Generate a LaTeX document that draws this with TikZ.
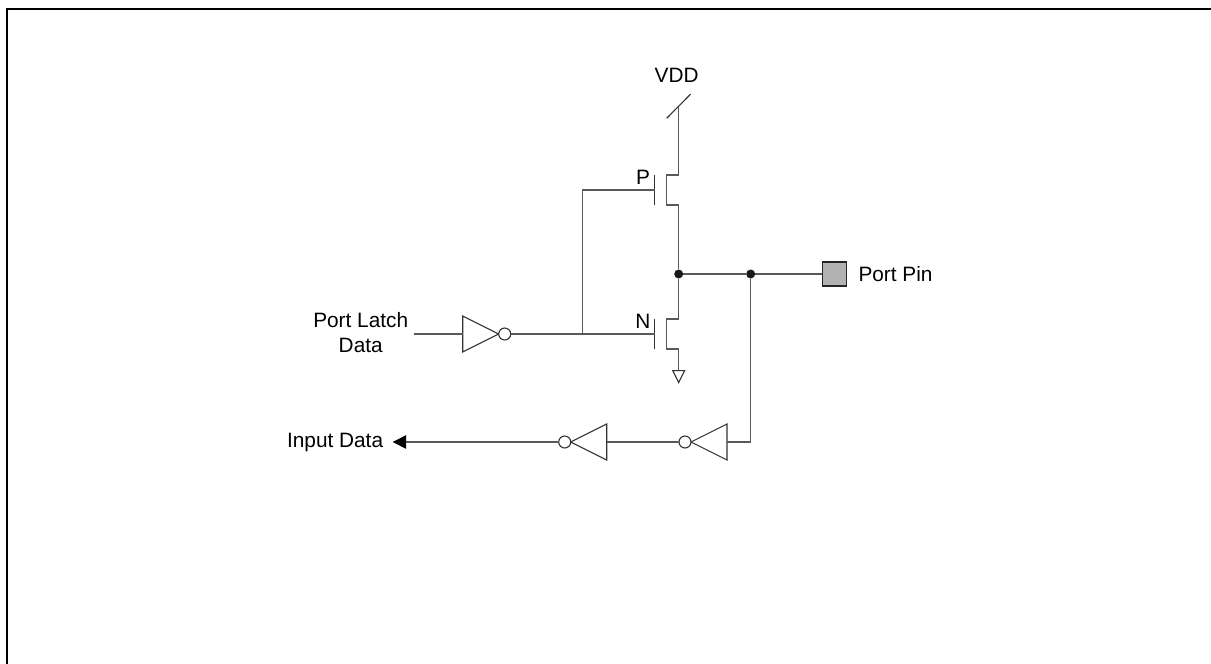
\documentclass[tikz,border=0pt]{standalone}
\usepackage{fontspec}
\setmainfont{Liberation Sans}
\usetikzlibrary{arrows.meta}
\usetikzlibrary{shapes.geometric}
\usetikzlibrary{calc}
\usetikzlibrary{positioning}
\tikzset{
  wire/.style={line width=1.4pt, draw=black!65},
  thin wire/.style={line width=1.1pt, draw=black!80},
  label/.style={inner sep=0pt, font=\fontsize{20.8}{24.5}\selectfont, text=black},
  inv/.style={isosceles triangle, isosceles triangle stretches, draw=black!80, line width=1.1pt,
    minimum width=36pt, minimum height=36pt, inner sep=0pt, outer sep=0pt, anchor=lower side},
  bubble/.style={circle, draw=black!80, line width=1.1pt, fill=white, minimum size=12pt, inner sep=0pt, outer sep=0pt, right=0pt of #1},
  bubbleleft/.style={circle, draw=black!80, line width=1.1pt, fill=white, minimum size=12pt, inner sep=0pt, outer sep=0pt, left=0pt of #1},
  dot/.style={circle, fill=black!90, minimum size=9pt, inner sep=0pt},
}
\begin{document}
\begin{tikzpicture}[x=1pt, y=-1pt]
  \useasboundingbox (0,0) rectangle (1211,664);
  \draw[line width=2pt] (7,664) |- (1211,9);

  % transistors
  \foreach \m/\y in {P/190,N/334} {
    \coordinate (gate\m) at (654.7,\y);
    \coordinate (drain\m) at (678.7,\y-15);
    \coordinate (source\m) at (678.7,\y+15);
    \draw[thin wire] (654.7,\y-15) -- (654.7,\y+15);
    \draw[wire] (drain\m) -- +(-12,0) -- ($(source\m)+(-12,0)$) -- (source\m);
  }
  \node[label] (vdd) at (676.7,75.3) {VDD};
  \node[label] (plabel) at (643,177.7) {P};
  \node[label] (nlabel) at (643,321.7) {N};

  \coordinate (rail) at (678.7,106.7);
  \coordinate (slashA) at (666.7,118.3);
  \coordinate (slashB) at (690.7,94);
  \draw[thin wire] (slashA) -- (slashB);
  \draw[wire] (rail) -- (drainP);

  \node[dot] (outj) at (678.7,274) {};
  \node[dot] (inj) at (750.7,274) {};
  \node[draw=black!85, line width=1.1pt, fill=black!30, minimum size=24pt, inner sep=0pt] (pin) at (834.7,274) {};
  \node[label, anchor=west] (pinlabel) at (858.3,274) {Port Pin};

  \draw[wire] (sourceP) -- (outj);
  \draw[wire] (outj) -- (drainN);
  \draw[wire] (outj) -- (inj);
  \draw[wire] (inj) -- (pin);

  % ground
  \node[isosceles triangle, isosceles triangle stretches, shape border rotate=270, draw=black!80, line width=1.1pt,
    minimum width=12pt, minimum height=12pt, inner sep=0pt, anchor=lower side] (gnd) at (678.7,370) {};
  \draw[wire] (sourceN) -- (gnd.lower side);

  % drive side
  \node[label, align=center] (latch) at (360.7,332.5) {Port Latch\\Data};
  \coordinate (latchin) at (414.3,334);
  \node[inv] (invA) at (462.7,334) {};
  \node[bubble=invA.apex] (bubA) {};
  \coordinate (tap) at (582.7,334);
  \draw[wire] (latchin) -- (invA.lower side);
  \draw[wire] (bubA) -- (gateN);
  \draw[wire] (tap) -- (582.7,190) -- (gateP);

  % input side
  \node[inv, shape border rotate=180] (invB) at (727,442) {};
  \node[bubbleleft=invB.apex] (bubB) {};
  \node[inv, shape border rotate=180] (invC) at (606.7,442) {};
  \node[bubbleleft=invC.apex] (bubC) {};
  \coordinate (intip) at (392.7,442);
  \node[label, anchor=east] (indata) at (383.3,442) {Input Data};
  \draw[wire] (inj) |- (invB.lower side);
  \draw[wire] (bubB) -- (invC.lower side);
  \draw[wire, -{Triangle[length=13.5pt, width=13.5pt, black]}] (bubC) -- (intip);
\end{tikzpicture}
\end{document}
